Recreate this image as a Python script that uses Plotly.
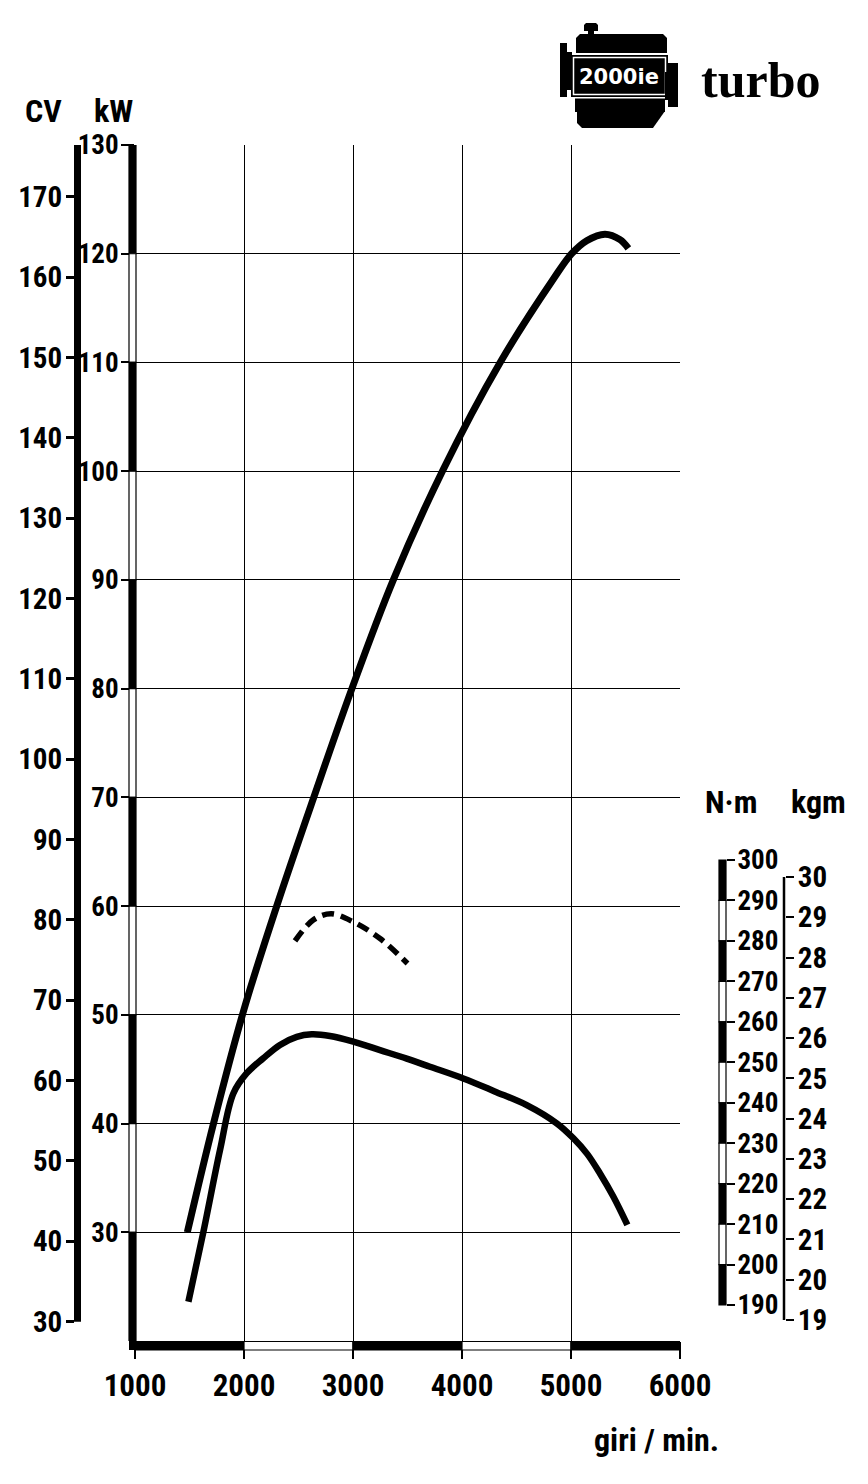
import plotly.graph_objects as go

# ---------------- data ----------------
rpm_power = [1480, 1720, 2000, 2300, 2640, 2990, 3370, 3820, 4350, 4840, 5006, 5144, 5312, 5450, 5526]
power_kw = [30.0, 40.0, 50.5, 60.0, 70.0, 80.0, 90.0, 100.0, 110.0, 117.7, 120.0, 121.2, 121.8, 121.3, 120.5]

rpm_torque = [1490, 1627, 1780, 1902, 2025, 2177, 2330, 2484, 2621, 2789, 3003, 3248, 3493, 3706,
              4012, 4300, 4594, 4869, 5022, 5150, 5266, 5388, 5517]
torque_nm = [190.8, 208.0, 228.3, 242.3, 247.3, 251.0, 254.3, 256.3, 256.9, 256.5, 255.1, 253.0, 250.9, 248.9,
             246.0, 242.8, 239.4, 234.9, 231.2, 227.3, 222.5, 216.8, 209.8]

rpm_overboost = [2468, 2636, 2800, 3003, 3248, 3500]
overboost_nm = [280.0, 285.2, 286.7, 284.7, 280.6, 274.4]

x_ticks = [1000, 2000, 3000, 4000, 5000, 6000]
kw_ticks = list(range(30, 131, 10))
cv_ticks = list(range(30, 171, 10))
nm_ticks = list(range(190, 301, 10))
kgm_ticks = list(range(19, 31))

# ---------------- layout geometry (pixels) ----------------
W, H = 868, 1484
PT, PB, PL, PR = 145, 1341, 135, 680


def fx(px):
    return px / W


def fy(py):
    return (PB - py) / (PB - PT)


def axis_range(v1, p1, v2, p2):
    slope = (v2 - v1) / (fy(p2) - fy(p1))
    lo = v1 - fy(p1) * slope
    return [lo, lo + slope]


FAM = "Roboto Condensed, Open Sans Condensed, DejaVu Sans Condensed, sans-serif"


def nfont(size):
    return dict(family=FAM, size=size, color="black", weight="bold")


fig = go.Figure()
fig.add_trace(go.Scatter(x=rpm_power, y=power_kw, mode="lines", line=dict(color="black", width=7, shape="spline"),
                         xaxis="x", yaxis="y", showlegend=False))
fig.add_trace(go.Scatter(x=rpm_torque, y=torque_nm, mode="lines", line=dict(color="black", width=6.5, shape="spline"),
                         xaxis="x", yaxis="y2", showlegend=False))
fig.add_trace(go.Scatter(x=rpm_overboost, y=overboost_nm, mode="lines",
                         line=dict(color="black", width=5.5, shape="spline", dash="12px,7px"),
                         xaxis="x", yaxis="y2", showlegend=False))

common = dict(zeroline=False, automargin=False)
fig.update_layout(
    width=W, height=H, paper_bgcolor="white", plot_bgcolor="white",
    margin=dict(l=0, r=0, t=PT, b=H - PB),
    xaxis=dict(domain=[fx(PL), fx(PR)], range=[1000, 6000], tickvals=x_ticks,
               ticktext=[str(v) for v in x_ticks], ticks="outside", ticklen=17, tickwidth=1.5,
               tickcolor="black", showgrid=True, gridcolor="black", gridwidth=1.4, showline=False,
               tickfont=nfont(31), **common),
    yaxis=dict(range=[20, 130], tickvals=kw_ticks, ticktext=[str(v) for v in kw_ticks], ticks="outside",
               ticklen=13, tickwidth=1.5, tickcolor="black", showgrid=True, gridcolor="black", gridwidth=1.4,
               showline=False, tickfont=nfont(27), ticklabelstandoff=-3, **common),
    yaxis2=dict(overlaying="y", anchor="free", position=fx(726), side="right",
                range=axis_range(300, 860, 190, 1305), tickvals=nm_ticks, ticktext=[str(v) for v in nm_ticks],
                ticks="outside", ticklen=8, tickwidth=2, tickcolor="black", showgrid=False, showline=False,
                tickfont=nfont(27), ticklabelstandoff=-3, **common),
    yaxis3=dict(overlaying="y", anchor="free", position=fx(785), side="right",
                range=axis_range(30, 877, 19, 1320), tickvals=kgm_ticks, ticktext=[str(v) for v in kgm_ticks],
                ticks="outside", ticklen=8, tickwidth=2, tickcolor="black", showgrid=False, showline=False,
                tickfont=nfont(29), ticklabelstandoff=-2, **common),
    yaxis4=dict(overlaying="y", anchor="free", position=fx(74), side="left",
                range=axis_range(170, 196.7, 30, 1321.7), tickvals=cv_ticks, ticktext=[str(v) for v in cv_ticks],
                ticks="outside", ticklen=8, tickwidth=2.5, tickcolor="black", showgrid=False, showline=False,
                tickfont=nfont(29), ticklabelstandoff=-2, **common),
)

shapes = []
# kW rail (alternating)
for i, v in enumerate(range(120, 19, -10)):
    shapes.append(dict(type="rect", xref="paper", yref="y", x0=fx(129), x1=fx(136), y0=v, y1=v + 10,
                       fillcolor="black" if i % 2 == 0 else "white", line=dict(color="black", width=1.2)))
shapes.append(dict(type="rect", xref="paper", yref="paper", x0=fx(129), x1=fx(136), y0=fy(1350), y1=fy(1341),
                   fillcolor="black", line=dict(width=0)))
# rpm rail (alternating)
for i, v in enumerate(x_ticks[:-1]):
    shapes.append(dict(type="rect", xref="x", yref="paper", x0=v, x1=v + 1000, y0=fy(1350), y1=fy(1341.5),
                       fillcolor="black" if i % 2 == 0 else "white", line=dict(color="black", width=1.2)))
# CV bar
shapes.append(dict(type="rect", xref="paper", yref="y4", x0=fx(74), x1=fx(81), y0=cv_ticks[0],
                   y1=axis_range(170, 196.7, 30, 1321.7)[1], fillcolor="black", line=dict(width=0)))
# Nm rail
for i, v in enumerate(range(290, 189, -10)):
    shapes.append(dict(type="rect", xref="paper", yref="y2", x0=fx(719), x1=fx(726), y0=v, y1=v + 10,
                       fillcolor="black" if i % 2 == 0 else "white", line=dict(color="black", width=1.2)))
# kgm line
shapes.append(dict(type="line", xref="paper", yref="y3", x0=fx(784), x1=fx(784), y0=kgm_ticks[0],
                   y1=kgm_ticks[-1], line=dict(color="black", width=2.5)))


# ---- engine logo ----
def prect(x0, y0, x1, y1, fill="black", line=None):
    return dict(type="rect", xref="paper", yref="paper", x0=fx(x0), x1=fx(x1), y0=fy(y1), y1=fy(y0),
                fillcolor=fill, line=line or dict(width=0))


def ppath(pts, fill="black"):
    p = "M" + " L".join(f"{fx(x):.5f},{fy(y):.5f}" for x, y in pts) + " Z"
    return dict(type="path", xref="paper", yref="paper", path=p, fillcolor=fill, line=dict(width=0))


shapes += [
    ppath([(586, 23), (596, 23), (598, 25), (598, 31), (584, 31), (584, 25)]),
    prect(588, 30, 594, 36),
    ppath([(580, 34), (663, 34), (667, 38), (667, 53), (576, 53), (576, 38)]),
    prect(571, 55, 668, 97),
    prect(573.5, 57.5, 665.5, 94.5, fill="rgba(0,0,0,0)", line=dict(color="white", width=1.5)),
    prect(575, 98.5, 665, 112),
    ppath([(577, 111), (665, 111), (653, 128), (582, 128), (577, 123)]),
    prect(560, 43, 567, 97),
    prect(566, 52, 572, 90),
    prect(668, 63, 678, 107),
    prect(665, 72, 670, 100),
]
fig.update_layout(shapes=shapes)

LBL_FONT = nfont(32)
ann = [
    dict(text="CV", x=fx(43), y=fy(111)),
    dict(text="kW", x=fx(114), y=fy(111)),
    dict(text="N·m", x=fx(731), y=fy(802)),
    dict(text="kgm", x=fx(818), y=fy(802)),
    dict(text="giri / min.", x=fx(656), y=fy(1440)),
]
annotations = []
for a in ann:
    annotations.append(dict(xref="paper", yref="paper", showarrow=False, font=LBL_FONT,
                            xanchor="center", yanchor="middle", **a))
annotations.append(dict(xref="paper", yref="paper", showarrow=False, text="2000ie", x=fx(619), y=fy(77),
                        xanchor="center", yanchor="middle",
                        font=dict(family="DejaVu Sans", size=21, color="white", weight="bold")))
annotations.append(dict(xref="paper", yref="paper", showarrow=False, text="turbo", x=fx(760), y=fy(80),
                        xanchor="center", yanchor="middle",
                        font=dict(family="Liberation Serif, Times New Roman, serif", size=50, color="black",
                                  weight="bold")))
fig.update_layout(annotations=annotations)

fig.write_html("out.html")
